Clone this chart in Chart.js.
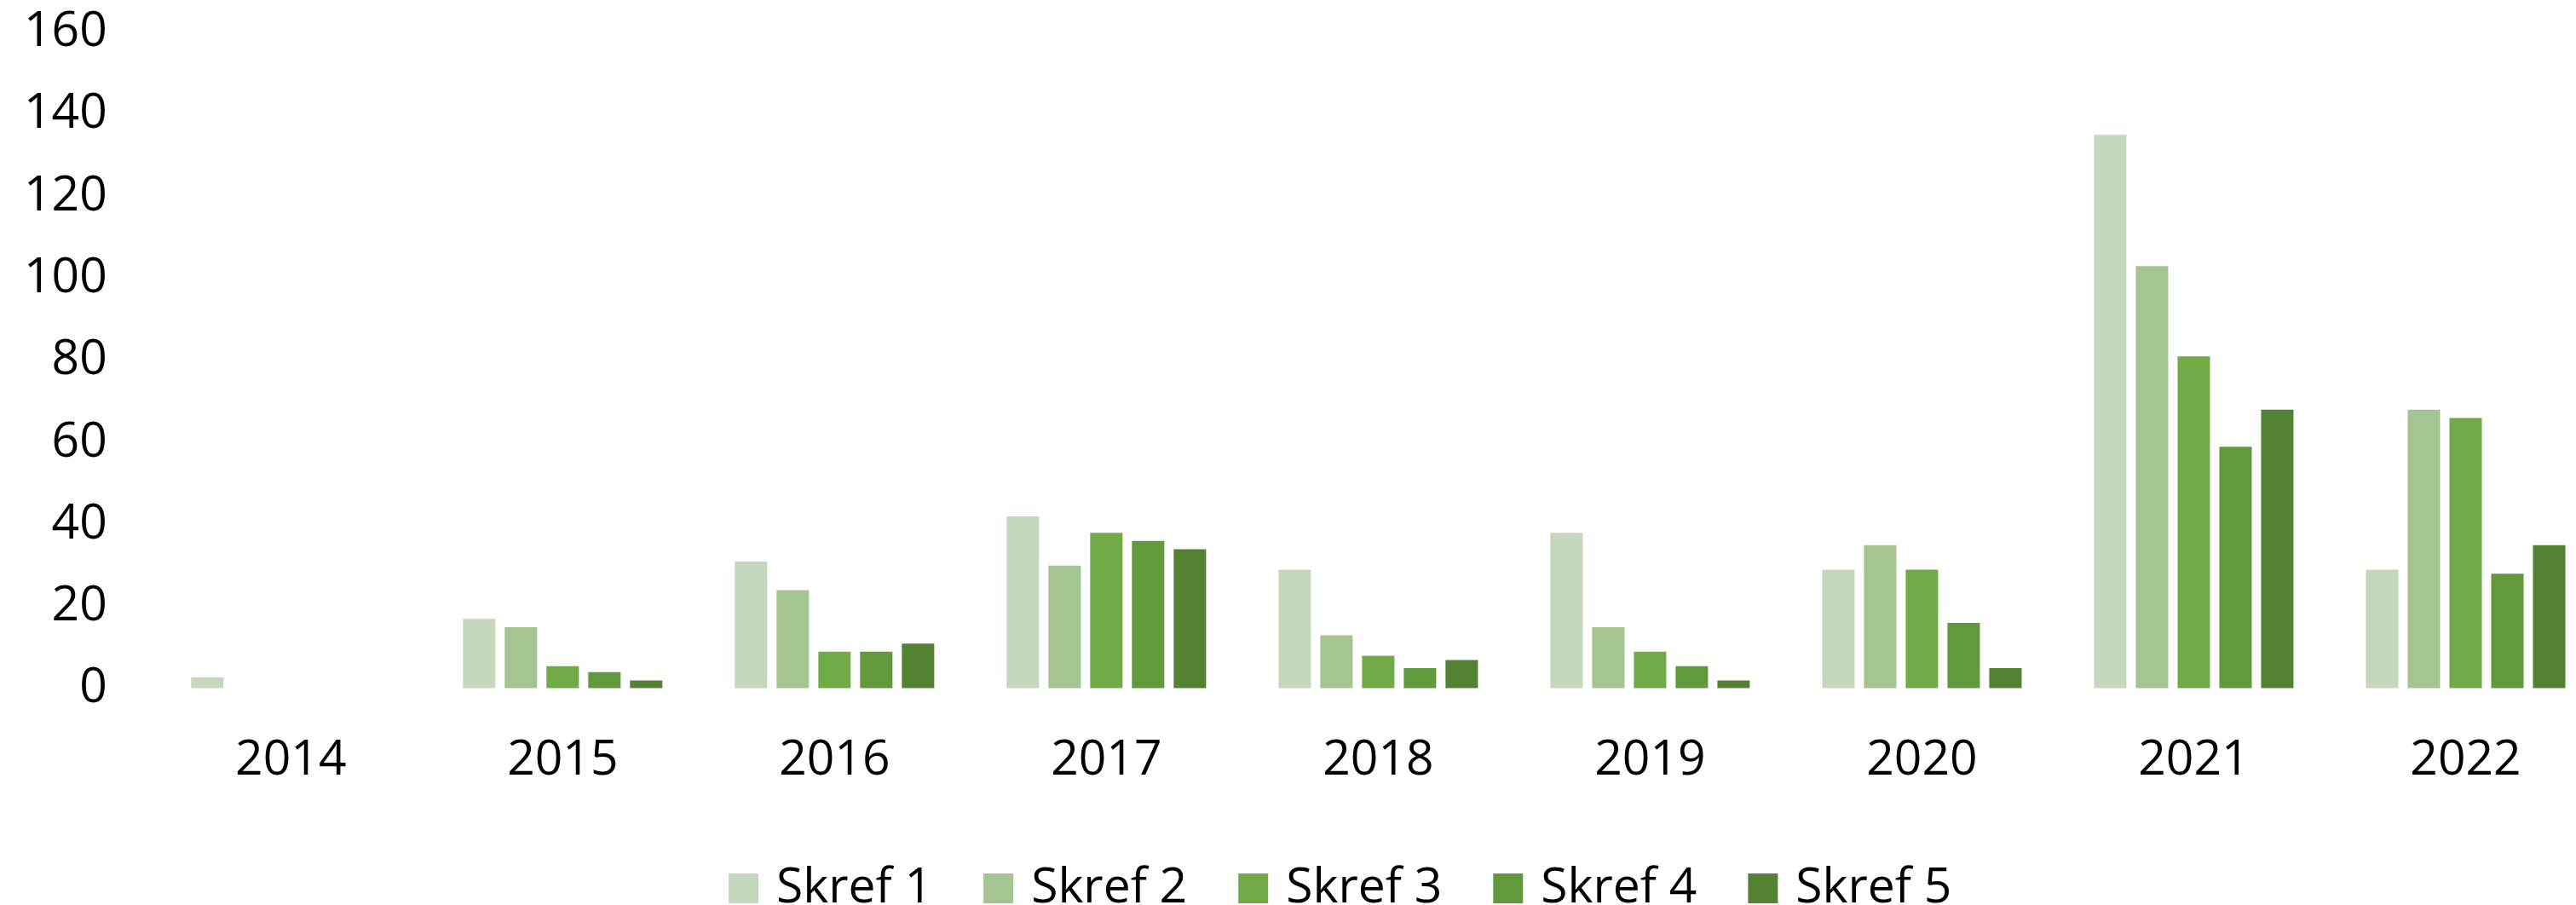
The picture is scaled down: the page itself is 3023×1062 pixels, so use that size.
<!DOCTYPE html>
<html>
<head>
<meta charset="utf-8">
<script src="https://cdn.jsdelivr.net/npm/chart.js@4.4.0/dist/chart.umd.min.js"></script>
<style>
  html, body { margin: 0; padding: 0; background: #ffffff; overflow: hidden; }
  #wrap { width: 3172px; height: 1082px; }
</style>
</head>
<body>
<div id="wrap"><canvas id="c" width="3172" height="1082"></canvas></div>
<script>
const categories = ['2014', '2015', '2016', '2017', '2018', '2019', '2020', '2021', '2022'];
const seriesNames = ['Skref 1', 'Skref 2', 'Skref 3', 'Skref 4', 'Skref 5'];
const skref1 = [2.7, 17, 31, 42, 29, 38, 29, 135, 29];
const skref2 = [0, 15, 24, 30, 13, 15, 35, 103, 68];
const skref3 = [0, 5.5, 9, 38, 8, 9, 29, 81, 66];
const skref4 = [0, 4, 9, 36, 5, 5.5, 16, 59, 28];
const skref5 = [0, 2, 11, 34, 7, 2, 5, 68, 35];
const yTicks = [0, 20, 40, 60, 80, 100, 120, 140, 160];

const colors = ['#c5d7bc', '#a4c491', '#70ab47', '#62993d', '#548235'];
const allSeries = [skref1, skref2, skref3, skref4, skref5];

const FONT = "'Open Sans', 'Liberation Sans', sans-serif";

const legendShift = {
  id: 'legendShift',
  afterLayout(chart) {
    if (chart.legend) { chart.legend.left += 36; chart.legend.right += 36; }
  }
};

new Chart(document.getElementById('c'), {
  type: 'bar',
  data: {
    labels: categories,
    datasets: allSeries.map((vals, i) => ({
      label: seriesNames[i],
      data: vals,
      backgroundColor: colors[i],
      borderWidth: 0,
      pointStyle: 'rect',
      categoryPercentage: 0.768,
      barPercentage: 0.776
    }))
  },
  plugins: [legendShift],
  options: {
    responsive: false,
    animation: false,
    devicePixelRatio: 1,
    layout: { padding: { left: 28, right: 119, top: 38, bottom: 1 } },
    plugins: {
      tooltip: { enabled: false },
      legend: {
        position: 'bottom',
        labels: {
          font: { family: FONT, size: 57 },
          color: '#000000',
          usePointStyle: true,
          pointStyle: 'rect',
          boxWidth: 20,
          boxHeight: 35,
          padding: 67.5
        }
      }
    },
    scales: {
      x: {
        grid: { display: true, drawOnChartArea: false, drawTicks: true, tickLength: 50, color: 'rgba(0,0,0,0)' },
        border: { display: false },
        afterFit: (axis) => { axis.height += 20; },
        ticks: {
          font: { family: FONT, size: 57 },
          color: '#000000',
          padding: 0,
          maxRotation: 0
        }
      },
      y: {
        min: 0,
        max: 160,
        afterBuildTicks: (axis) => { axis.ticks = yTicks.map(v => ({ value: v })); },
        grid: { display: true, drawOnChartArea: false, drawTicks: true, tickLength: 56, color: 'rgba(0,0,0,0)' },
        border: { display: false },
        ticks: {
          font: { family: FONT, size: 57 },
          color: '#000000',
          padding: 0
        }
      }
    }
  }
});
</script>
</body>
</html>
